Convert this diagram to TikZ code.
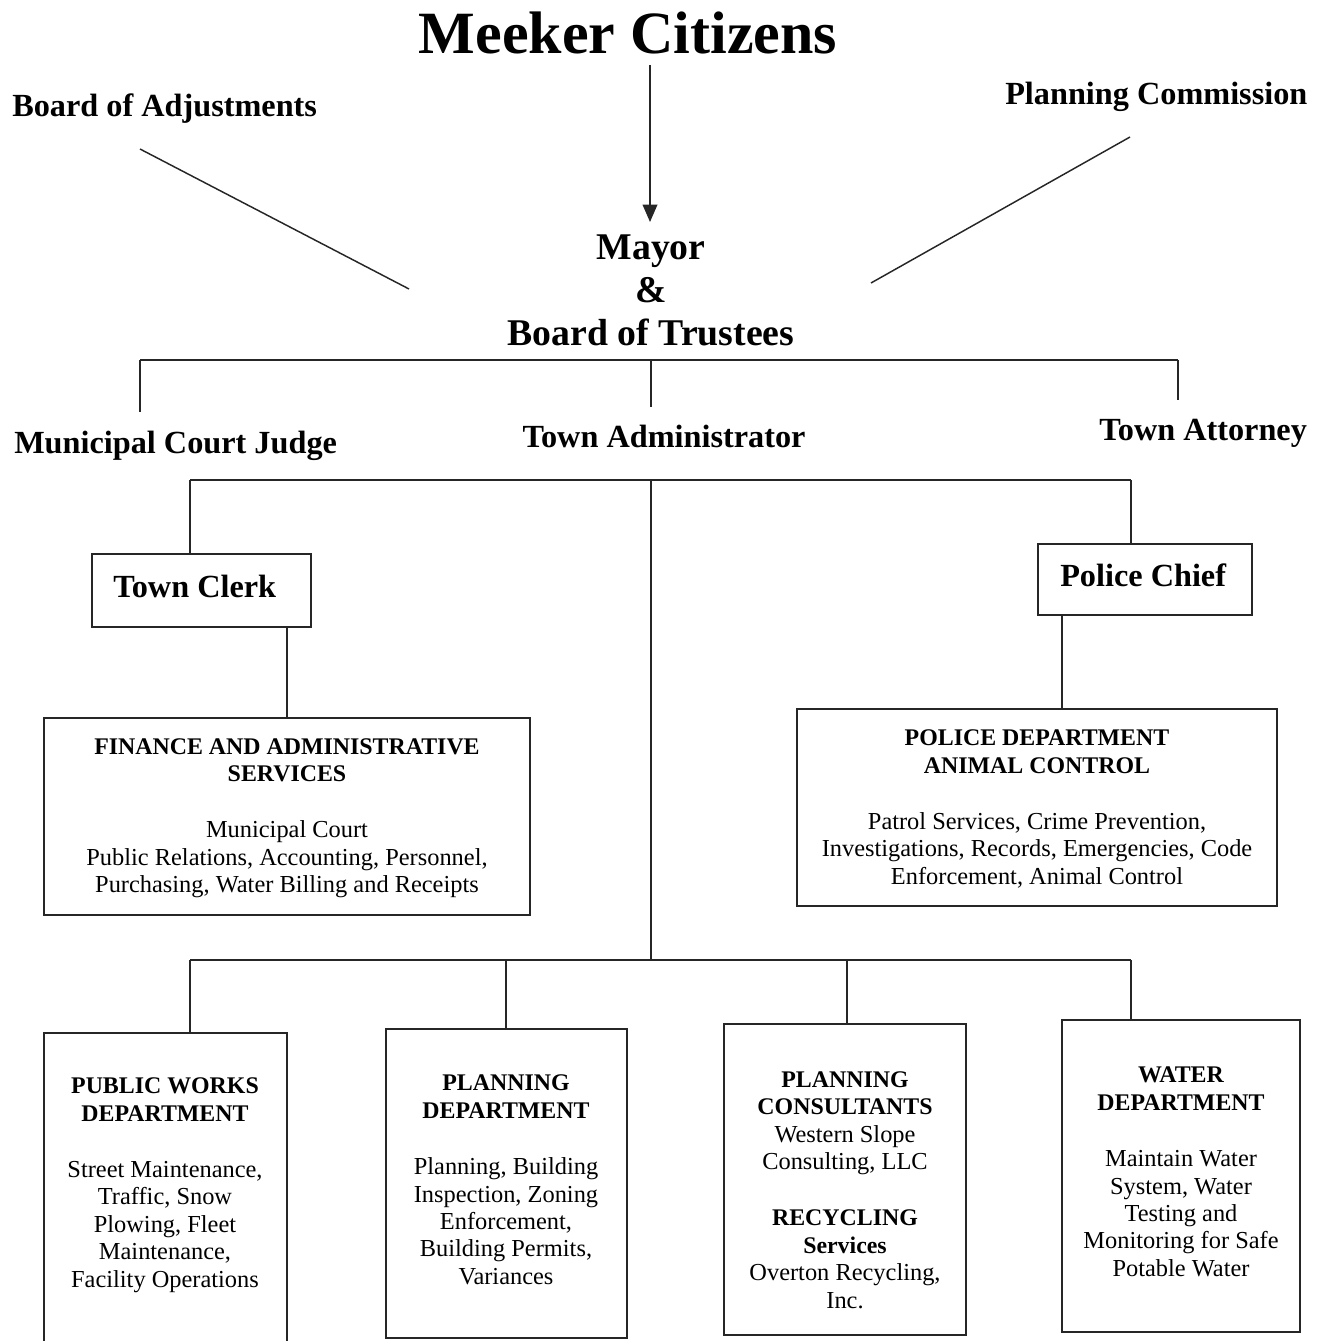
\documentclass[tikz,border=0pt]{standalone}
\usepackage{fontspec}
\setmainfont{Liberation Serif}
\usetikzlibrary{fit,arrows.meta}
\newcommand\ttl{\fontsize{17.9}{20.6}\selectfont\bfseries}
\begin{document}
\begin{tikzpicture}[x=0.75pt,y=-0.75pt,
  ln/.style={draw=black!85, line width=1.1pt},
  boxst/.style={draw=black!85, line width=1.3pt, inner sep=0pt, fit={#1}},
  big/.style={font=\fontsize{45}{50}\selectfont\bfseries, inner sep=0pt},
  lab/.style={font=\fontsize{24.2}{28}\selectfont\bfseries, inner sep=0pt},
  mayorst/.style={font=\fontsize{28.3}{32.25}\selectfont\bfseries, align=center, inner sep=0pt},
  btext/.style={font=\fontsize{18.3}{20.6}\selectfont, align=center, inner sep=0pt}]
\useasboundingbox (0,0) rectangle (1323,1341);
\clip (0,0) rectangle (1323,1341);

% top labels
\node[big, anchor=base] (meeker) at (628,54) {Meeker Citizens};
\node[lab, anchor=base west] (boa) at (12,117) {Board of Adjustments};
\node[lab, anchor=base west] (plc) at (1005,105) {Planning Commission};
\node[mayorst] (mayor) at (651,290) {Mayor\\\&\\Board of Trustees};

\node[lab, anchor=base west] (mcj) at (14,453) {Municipal Court Judge};
\node[lab, anchor=base] (ta) at (664,447) {Town Administrator};
\node[lab, anchor=base west] (tatt) at (1099,440) {Town Attorney};

% second level boxes
\node[boxst={(92,554) (311,627)}] (tc) {};
\node[lab, anchor=base west] (tctext) at (113,597) {Town Clerk};
\node[boxst={(1038,544) (1252,615)}] (pc) {};
\node[lab, anchor=base west] (pctext) at (1060,586) {Police Chief};

\node[boxst={(44,718) (530,915)}] (fin) {};
\node[btext] (fintext) at (287,818) {{\ttl FINANCE AND ADMINISTRATIVE}\\{\ttl SERVICES}\\[21.5pt]
  Municipal Court\\Public Relations, Accounting, Personnel,\\Purchasing, Water Billing and Receipts};
\node[boxst={(797,709) (1277,906)}] (pd) {};
\node[btext] (pdtext) at (1037,809) {{\ttl POLICE DEPARTMENT}\\{\ttl ANIMAL CONTROL}\\[21.5pt]
  Patrol Services, Crime Prevention,\\Investigations, Records, Emergencies, Code\\Enforcement, Animal Control};

% bottom boxes
\node[boxst={(44,1033) (287,1360)}] (pw) {};
\node[btext] (pwtext) at (165,1185) {{\ttl PUBLIC WORKS}\\{\ttl DEPARTMENT}\\[21.5pt]
  Street Maintenance,\\Traffic, Snow\\Plowing, Fleet\\Maintenance,\\Facility Operations};
\node[boxst={(386,1029) (627,1338)}] (pld) {};
\node[btext] (pldtext) at (506,1180) {{\ttl PLANNING}\\{\ttl DEPARTMENT}\\[21.5pt]
  Planning, Building\\Inspection, Zoning\\Enforcement,\\Building Permits,\\Variances};
\node[boxst={(724,1024) (966,1335)}] (pcs) {};
\node[btext] (pcstext) at (845,1190) {{\ttl PLANNING}\\{\ttl CONSULTANTS}\\Western Slope\\Consulting, LLC\\[21.5pt]
  {\ttl RECYCLING}\\{\ttl Services}\\Overton Recycling,\\Inc.};
\node[boxst={(1062,1020) (1300,1332)}] (wd) {};
\node[btext] (wdtext) at (1181,1172) {{\ttl WATER}\\{\ttl DEPARTMENT}\\[21.5pt]
  Maintain Water\\System, Water\\Testing and\\Monitoring for Safe\\Potable Water};

% connectors
\coordinate (arS) at (650,65);
\coordinate (arE) at (650,222);
\draw[ln, -{Triangle[length=13pt,width=11pt]}] (arS) -- (arE);
\coordinate (boaS) at (140,149);
\coordinate (boaE) at (409,289);
\draw[ln] (boaS) -- (boaE);
\coordinate (plcS) at (1130,137);
\coordinate (plcE) at (871,283);
\draw[ln] (plcS) -- (plcE);

\coordinate (b1l) at (140,360);
\coordinate (b1c) at (651,360);
\coordinate (b1r) at (1178,360);
\draw[ln] (b1l) -- (b1r);
\draw[ln] (b1l) -- ++(0,52);
\draw[ln] (b1c) -- ++(0,47);
\draw[ln] (b1r) -- ++(0,40);

\coordinate (b2l) at (190,480);
\coordinate (b2c) at (651,480);
\coordinate (b2r) at (1131,480);
\coordinate (b3l) at (190,960);
\coordinate (b3c) at (651,960);
\coordinate (b3r) at (1131,960);
\draw[ln] (b2l) -- (b2r);
\draw[ln] (b2l) -- (b2l |- tc.north);
\draw[ln] (b2r) -- (b2r |- pc.north);
\draw[ln] (b2c) -- (b3c);
\coordinate (tcx) at (287,0);
\draw[ln] (tcx |- tc.south) -- (tcx |- fin.north);
\coordinate (pcx) at (1062,0);
\draw[ln] (pcx |- pc.south) -- (pcx |- pd.north);

\draw[ln] (b3l) -- (b3r);
\draw[ln] (b3l) -- (b3l |- pw.north);
\coordinate (x2) at (506,960);
\coordinate (x3) at (847,960);
\draw[ln] (x2) -- (x2 |- pld.north);
\draw[ln] (x3) -- (x3 |- pcs.north);
\draw[ln] (b3r) -- (b3r |- wd.north);
\end{tikzpicture}
\end{document}
